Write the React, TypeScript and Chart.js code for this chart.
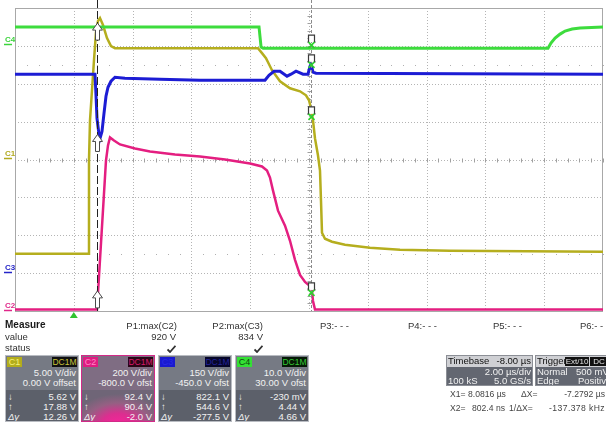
import React, { useEffect, useRef } from "react";
import { Chart, registerables } from "chart.js";
Chart.register(...registerables);

// Horizontal axis: time in µs (2 µs/div, 10 divisions). Vertical: screen divisions (8 divisions).
const timeMin = -2;
const timeMax = 18;
const timePerDiv = 2;
const divMin = -4;
const divMax = 4;

// C1 (gate signal, olive)
const c1Time = [-2, 0.483, 0.517, 0.551, 0.619, 0.687, 0.755, 0.823, 0.891, 0.993, 1.129, 1.265, 1.401, 6.265, 6.401, 6.537, 6.741, 7.014, 7.354, 7.694, 7.898, 8.0, 8.068, 8.136, 8.204, 8.306, 8.374, 8.408, 8.442, 8.544, 8.782, 9.224, 10.075, 11.095, 12.796, 18];
const c1Div = [-2.49, -2.49, -0.026, 1.033, 1.828, 2.623, 3.364, 3.656, 3.735, 3.55, 3.205, 2.993, 2.94, 2.94, 2.808, 2.675, 2.358, 2.066, 1.881, 1.801, 1.695, 1.563, 1.351, 1.033, 0.556, 0.106, -0.291, -1.086, -1.934, -2.093, -2.172, -2.252, -2.331, -2.384, -2.411, -2.437];

// C2 (pink)
const c2Time = [-2, 0.789, 1.095, 1.163, 1.231, 1.367, 1.571, 2.082, 2.592, 3.442, 4.293, 5.143, 5.993, 6.401, 6.571, 6.673, 6.776, 6.946, 7.184, 7.354, 7.524, 7.694, 7.864, 8.034, 8.102, 8.136, 8.204, 18];
const c2Div = [-3.96, -3.96, -0.026, 0.371, 0.583, 0.503, 0.397, 0.291, 0.212, 0.132, 0.079, 0.0, -0.106, -0.185, -0.291, -0.477, -0.821, -1.351, -1.748, -2.146, -2.649, -3.046, -3.232, -3.338, -3.47, -3.735, -3.96, -3.96];

// C3 (blue)
const c3Time = [-2, 0.721, 0.755, 0.789, 0.857, 0.891, 0.959, 1.027, 1.095, 1.163, 1.265, 1.401, 1.741, 2.932, 4.293, 6.503, 6.639, 6.81, 7.014, 7.252, 7.388, 7.558, 7.796, 7.966, 8.034, 8.068, 8.136, 8.238, 18];
const c3Div = [2.252, 2.252, 1.695, 1.086, 0.662, 0.556, 0.742, 1.219, 1.669, 1.907, 2.066, 2.172, 2.146, 2.119, 2.093, 2.093, 2.225, 2.331, 2.331, 2.199, 2.252, 2.331, 2.252, 2.252, 2.464, 2.517, 2.305, 2.278, 2.252];

// C4 (green)
const c4Time = [-2, 6.3, 6.37, 6.44, 16.13, 16.23, 16.37, 16.54, 16.71, 16.95, 17.22, 18];
const c4Div = [3.5, 3.5, 2.967, 2.94, 2.94, 3.073, 3.205, 3.311, 3.391, 3.444, 3.47, 3.5];

// cursors
const cursorX1 = 8.0816;
const cursorX2 = 0.8024;
const x2MarkerDiv = [3.39, 0.45, -3.68];
const x1MarkerDiv = [3.02, 2.5, 1.126, -3.523];
const triggerTime = 0;

// channel ground markers
const chanNames = ["C4", "C1", "C3", "C2"];
const chanLevels = [3.05, 0.04, -2.97, -3.97];
const chanColors = ["#3cd43c", "#b2aa1e", "#2424c8", "#e0288a"];

const colC1 = "#b5ae1e";
const colC2 = "#e41e80";
const colC3 = "#1c1cd4";
const colC4 = "#3ddc3d";

const zip = (t: number[], v: number[]) => t.map((x, i) => ({ x, y: v[i] }));

const scopePlugin = {
  id: "scope",
  beforeDatasetsDraw(chart: any) {
    const { ctx, chartArea: a, scales } = chart;
    const xs = scales.x;
    const ys = scales.y;
    ctx.save();
    ctx.strokeStyle = "#b4b4b4";
    ctx.lineWidth = 1;
    ctx.setLineDash([1, 2]);
    for (let t = timeMin + timePerDiv; t < timeMax; t += timePerDiv) {
      const px = Math.round(xs.getPixelForValue(t)) + 0.5;
      ctx.beginPath();
      ctx.moveTo(px, a.top);
      ctx.lineTo(px, a.bottom);
      ctx.stroke();
    }
    for (let d = divMin + 1; d < divMax; d++) {
      const py = Math.round(ys.getPixelForValue(d)) + 0.5;
      ctx.beginPath();
      ctx.moveTo(a.left, py);
      ctx.lineTo(a.right, py);
      ctx.stroke();
    }
    ctx.setLineDash([]);
    ctx.fillStyle = "#b0b0b0";
    [2.5, -2.5].forEach((d) => {
      const py = Math.round(ys.getPixelForValue(d));
      for (let t = timeMin; t <= timeMax; t += timePerDiv / 5) {
        const px = Math.round(xs.getPixelForValue(t));
        ctx.fillRect(px, py, 1, 1);
      }
    });
    ctx.strokeStyle = "#a0a0a0";
    const cy = Math.round(ys.getPixelForValue(0)) + 0.5;
    for (let t = timeMin; t <= timeMax + 0.001; t += timePerDiv / 5) {
      const px = Math.round(xs.getPixelForValue(t)) + 0.5;
      ctx.beginPath();
      ctx.moveTo(px, cy - 2);
      ctx.lineTo(px, cy + 2);
      ctx.stroke();
    }
    const cx = Math.round(xs.getPixelForValue((timeMin + timeMax) / 2)) + 0.5;
    for (let d = divMin; d <= divMax + 0.001; d += 0.2) {
      const py = Math.round(ys.getPixelForValue(d)) + 0.5;
      ctx.beginPath();
      ctx.moveTo(cx - 2, py);
      ctx.lineTo(cx + 2, py);
      ctx.stroke();
    }
    ctx.strokeStyle = "#a8a8a8";
    ctx.strokeRect(Math.round(a.left) + 0.5, Math.round(a.top) + 0.5, Math.round(a.right - a.left) - 1, Math.round(a.bottom - a.top));
    ctx.restore();
  },
  afterDatasetsDraw(chart: any) {
    const { ctx, chartArea: a, scales } = chart;
    const xs = scales.x;
    const ys = scales.y;
    ctx.save();
    const p2 = Math.round(xs.getPixelForValue(cursorX2)) + 0.5;
    ctx.strokeStyle = "#222";
    ctx.lineWidth = 1;
    ctx.setLineDash([8, 3]);
    ctx.beginPath();
    ctx.moveTo(p2, 0);
    ctx.lineTo(p2, a.bottom);
    ctx.stroke();
    const p1 = Math.round(xs.getPixelForValue(cursorX1)) + 0.5;
    ctx.strokeStyle = "#8a8a8a";
    ctx.setLineDash([3, 2]);
    ctx.beginPath();
    ctx.moveTo(p1, 0);
    ctx.lineTo(p1, a.bottom);
    ctx.stroke();
    ctx.setLineDash([]);
    x2MarkerDiv.forEach((d) => {
      const cxp = p2;
      const top = ys.getPixelForValue(d) - 8;
      ctx.beginPath();
      ctx.moveTo(cxp, top);
      ctx.lineTo(cxp + 5, top + 7);
      ctx.lineTo(cxp + 2, top + 7);
      ctx.lineTo(cxp + 2, top + 17);
      ctx.lineTo(cxp - 2, top + 17);
      ctx.lineTo(cxp - 2, top + 7);
      ctx.lineTo(cxp - 5, top + 7);
      ctx.closePath();
      ctx.fillStyle = "#ffffff";
      ctx.fill();
      ctx.strokeStyle = "#4a4a4a";
      ctx.lineWidth = 1;
      ctx.stroke();
    });
    x1MarkerDiv.forEach((d) => {
      const cxp = p1;
      const cyp = ys.getPixelForValue(d);
      ctx.fillStyle = "#ffffff";
      ctx.fillRect(cxp - 3, cyp - 10, 6, 7);
      ctx.strokeStyle = "#3a3a3a";
      ctx.lineWidth = 1.2;
      ctx.beginPath();
      ctx.moveTo(cxp - 4, cyp - 3);
      ctx.lineTo(cxp - 3, cyp - 3);
      ctx.lineTo(cxp - 3, cyp - 10);
      ctx.lineTo(cxp + 3, cyp - 10);
      ctx.lineTo(cxp + 3, cyp - 3);
      ctx.lineTo(cxp + 4, cyp - 3);
      ctx.stroke();
      ctx.strokeStyle = "#2ed12e";
      ctx.lineWidth = 1.6;
      ctx.beginPath();
      ctx.moveTo(cxp - 3, cyp - 3);
      ctx.lineTo(cxp + 3, cyp + 3);
      ctx.moveTo(cxp + 3, cyp - 3);
      ctx.lineTo(cxp - 3, cyp + 3);
      ctx.stroke();
    });
    const tp = xs.getPixelForValue(triggerTime);
    ctx.fillStyle = "#2fc42f";
    ctx.beginPath();
    ctx.moveTo(tp, a.bottom + 1);
    ctx.lineTo(tp + 4, a.bottom + 7);
    ctx.lineTo(tp - 4, a.bottom + 7);
    ctx.closePath();
    ctx.fill();
    ctx.font = "bold 8px 'Liberation Sans', Arial, sans-serif";
    ctx.textBaseline = "alphabetic";
    chanNames.forEach((n, i) => {
      const py = Math.round(ys.getPixelForValue(chanLevels[i]));
      ctx.fillStyle = chanColors[i];
      ctx.fillText(n, 5, py - 2);
      ctx.strokeStyle = chanColors[i];
      ctx.lineWidth = 1.5;
      ctx.beginPath();
      ctx.moveTo(4, py + 0.5);
      ctx.lineTo(12, py + 0.5);
      ctx.stroke();
    });
    ctx.restore();
  },
};

const FONT = "'Liberation Sans', Arial, sans-serif";

function T(props: { x?: number; r?: number; y: number; children: React.ReactNode; style?: React.CSSProperties }) {
  const s: React.CSSProperties = {
    position: "absolute",
    top: props.y - 6,
    lineHeight: "12px",
    whiteSpace: "nowrap",
    ...props.style,
  };
  if (props.x !== undefined) s.left = props.x;
  if (props.r !== undefined) s.right = props.r;
  return <span style={s}>{props.children}</span>;
}

function Check(props: { x: number; y: number }) {
  return (
    <svg style={{ position: "absolute", left: props.x, top: props.y - 4 }} width="9" height="8" viewBox="0 0 9 8">
      <path d="M0.5 4.5 L3 7 L8.5 0.8" stroke="#333" strokeWidth="1.8" fill="none" />
    </svg>
  );
}

type PanelProps = {
  left: number;
  label: string;
  labelBg: string;
  labelFg: string;
  coupBg: string;
  coupFg: string;
  border: string;
  topBg: string;
  bottomBg: string;
  rows: string[];
};

function Panel(p: PanelProps) {
  const txt: React.CSSProperties = { color: "#f2f2f2" };
  const rowY = [16.5, 26.5, 41, 51, 60.5];
  return (
    <div
      style={{
        position: "absolute",
        left: p.left,
        top: 355,
        width: 74,
        height: 67,
        boxSizing: "border-box",
        border: `1px solid ${p.border}`,
        overflow: "hidden",
        background: p.topBg,
      }}
    >
      <div style={{ position: "absolute", left: 0, right: 0, top: 34, bottom: 0, background: p.bottomBg }} />
      <div
        style={{
          position: "absolute",
          left: 1,
          top: 1,
          width: 15,
          height: 10,
          background: p.labelBg,
          color: p.labelFg,
          fontSize: 9,
          lineHeight: "10px",
          textAlign: "center",
        }}
      >
        {p.label}
      </div>
      <div
        style={{
          position: "absolute",
          right: 1,
          top: 1,
          width: 25,
          height: 10,
          background: p.coupBg,
          color: p.coupFg,
          fontSize: 8.5,
          lineHeight: "10px",
          textAlign: "center",
        }}
      >
        DC1M
      </div>
      {p.rows.map((r, i) => (
        <T key={i} r={2} y={rowY[i]} style={txt}>
          {r}
        </T>
      ))}
      <T x={2} y={rowY[2]} style={txt}>↓</T>
      <T x={2} y={rowY[3]} style={txt}>↑</T>
      <T x={2} y={rowY[4]} style={{ ...txt, fontStyle: "italic", textDecoration: "underline" }}>Δy</T>
    </div>
  );
}

export default function App() {
  const ref = useRef<HTMLCanvasElement | null>(null);
  useEffect(() => {
    if (!ref.current) return;
    const chart = new Chart(ref.current, {
      type: "line",
      data: {
        datasets: [
          { label: "C4", data: zip(c4Time, c4Div), borderColor: colC4, borderWidth: 3, pointRadius: 0, tension: 0 },
          { label: "C3", data: zip(c3Time, c3Div), borderColor: colC3, borderWidth: 3, pointRadius: 0, tension: 0 },
          { label: "C1", data: zip(c1Time, c1Div), borderColor: colC1, borderWidth: 2.5, pointRadius: 0, tension: 0 },
          { label: "C2", data: zip(c2Time, c2Div), borderColor: colC2, borderWidth: 2.5, pointRadius: 0, tension: 0 },
        ],
      },
      options: {
        animation: false,
        responsive: false,
        maintainAspectRatio: false,
        events: [],
        layout: { padding: { left: 15, right: 3, top: 8, bottom: 9 } },
        scales: {
          x: { type: "linear", min: timeMin, max: timeMax, display: false },
          y: { type: "linear", min: divMin, max: divMax, display: false },
        },
        plugins: { legend: { display: false }, tooltip: { enabled: false } },
      },
      plugins: [scopePlugin],
    } as any);
    return () => chart.destroy();
  }, []);

  const base: React.CSSProperties = { color: "#333", fontSize: 9.5 };
  const light: React.CSSProperties = { color: "#f2f2f2" };
  const dark: React.CSSProperties = { color: "#111" };
  const xr: React.CSSProperties = { color: "#444", fontSize: 8.6 };

  return (
    <div
      style={{
        position: "fixed",
        left: 0,
        top: 0,
        width: 606,
        height: 423,
        overflow: "hidden",
        background: "#ffffff",
        fontFamily: FONT,
        fontSize: 9.5,
      }}
    >
      <canvas ref={ref} width={606} height={320} style={{ position: "absolute", left: 0, top: 0, width: 606, height: 320 }} />

      <T x={5} y={325} style={{ color: "#1a1a1a", fontSize: 10, fontWeight: "bold" }}>Measure</T>
      <T x={5} y={337} style={base}>value</T>
      <T x={5} y={348} style={base}>status</T>

      <T r={606 - 177} y={326} style={base}>P1:max(C2)</T>
      <T r={606 - 176} y={337} style={base}>920 V</T>
      <Check x={167} y={349} />
      <T r={606 - 263} y={326} style={base}>P2:max(C3)</T>
      <T r={606 - 263} y={337} style={base}>834 V</T>
      <Check x={254} y={349} />
      <T x={320} y={326} style={base}>P3:- - -</T>
      <T x={408} y={326} style={base}>P4:- - -</T>
      <T x={493} y={326} style={base}>P5:- - -</T>
      <T x={580} y={326} style={base}>P6:- - -</T>

      <Panel
        left={5}
        label="C1"
        labelBg="#b3ad1c"
        labelFg="#f6f07a"
        coupBg="#111"
        coupFg="#c9c33a"
        border="#b9bcc2"
        topBg="#767a84"
        bottomBg="#5c606a"
        rows={["5.00 V/div", "0.00 V offset", "5.62 V", "17.88 V", "12.26 V"]}
      />
      <Panel
        left={81}
        label="C2"
        labelBg="#e01c82"
        labelFg="#ff86c4"
        coupBg="#2a0616"
        coupFg="#d81a6c"
        border="#d22a88"
        topBg="#7f6d83"
        bottomBg="radial-gradient(ellipse 46px 30px at 36px 34px, #f6249a 0%, #dc2e90 35%, #956083 70%, #6f6577 100%)"
        rows={["200 V/div", "-800.0 V ofst", "92.4 V", "90.4 V", "-2.0 V"]}
      />
      <Panel
        left={158}
        label="C3"
        labelBg="#1a1ad0"
        labelFg="#2a2ae6"
        coupBg="#06062a"
        coupFg="#22229a"
        border="#b9bcc2"
        topBg="#767a84"
        bottomBg="#5c606a"
        rows={["150 V/div", "-450.0 V ofst", "822.1 V", "544.6 V", "-277.5 V"]}
      />
      <Panel
        left={235}
        label="C4"
        labelBg="#34e034"
        labelFg="#0c4a0c"
        coupBg="#061a06"
        coupFg="#36c836"
        border="#b9bcc2"
        topBg="#767a84"
        bottomBg="#5c606a"
        rows={["10.0 V/div", "30.00 V ofst", "-230 mV", "4.44 V", "4.66 V"]}
      />

      {/* Timebase */}
      <div
        style={{
          position: "absolute",
          left: 446,
          top: 355,
          width: 87,
          height: 31,
          boxSizing: "border-box",
          border: "1px solid #8c8f96",
          background: "#636771",
          overflow: "hidden",
        }}
      >
        <div style={{ position: "absolute", left: 0, right: 0, top: 0, height: 11, background: "#cfd0d4" }} />
        <T x={1} y={5} style={dark}>Timebase</T>
        <T r={1} y={5} style={dark}>-8.00 µs</T>
        <T r={1} y={16} style={light}>2.00 µs/div</T>
        <T x={1} y={25} style={light}>100 kS</T>
        <T r={1} y={25} style={light}>5.0 GS/s</T>
      </div>
      {/* Trigger */}
      <div
        style={{
          position: "absolute",
          left: 535,
          top: 355,
          width: 90,
          height: 31,
          boxSizing: "border-box",
          border: "1px solid #8c8f96",
          background: "#636771",
          overflow: "hidden",
        }}
      >
        <div style={{ position: "absolute", left: 0, right: 0, top: 0, height: 11, background: "#cfd0d4" }} />
        <T x={1} y={5} style={dark}>Trigger</T>
        <div style={{ position: "absolute", left: 29, top: 1, width: 24, height: 9, background: "#111", color: "#e6e6e6", fontSize: 8, lineHeight: "9px", textAlign: "center" }}>Ext/10</div>
        <div style={{ position: "absolute", left: 54, top: 1, width: 18, height: 9, background: "#111", color: "#e6e6e6", fontSize: 8, lineHeight: "9px", textAlign: "center" }}>DC</div>
        <T x={1} y={16} style={light}>Normal</T>
        <T x={40} y={16} style={light}>500 mV</T>
        <T x={1} y={25} style={light}>Edge</T>
        <T x={42} y={25} style={light}>Positive</T>
      </div>

      <T x={450} y={394} style={xr}>X1=</T>
      <T x={468} y={394} style={xr}>8.0816 µs</T>
      <T x={521} y={394} style={xr}>ΔX=</T>
      <T r={1} y={394} style={xr}>-7.2792 µs</T>
      <T x={450} y={408} style={xr}>X2=</T>
      <T x={472} y={408} style={xr}>802.4 ns</T>
      <T x={509} y={408} style={xr}>1/ΔX=</T>
      <T r={1} y={408} style={{ ...xr, letterSpacing: 0.4 }}>-137.378 kHz</T>
    </div>
  );
}
